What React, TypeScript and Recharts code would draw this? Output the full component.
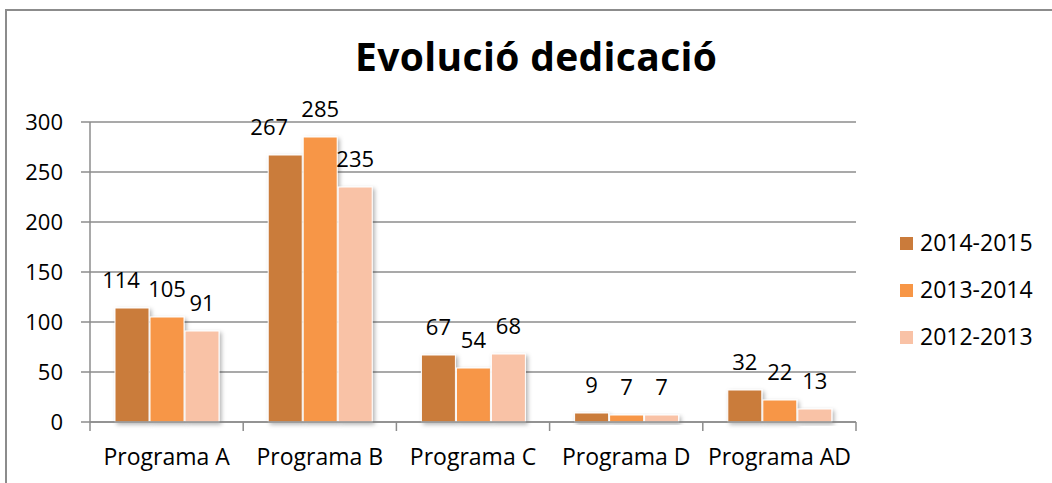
import React from 'react';
import { BarChart, Bar, XAxis, YAxis, CartesianGrid, LabelList } from 'recharts';

const chartTitle = 'Evolució dedicació';
const categories = ['Programa A', 'Programa B', 'Programa C', 'Programa D', 'Programa AD'];
const series2014_2015 = [114, 267, 67, 9, 32];
const series2013_2014 = [105, 285, 54, 7, 22];
const series2012_2013 = [91, 235, 68, 7, 13];
const seriesNames = ['2014-2015', '2013-2014', '2012-2013'];
const yTicks = [0, 50, 100, 150, 200, 250, 300];

const seriesColors = ['#CA7B3B', '#F79646', '#F9C2A6'];
const axisColor = '#8c8c8c';
const fontFamily = "'Open Sans', sans-serif";
const firstSeriesLabelShift = [-11, -16, 0, 0, 0];

const data = categories.map((name, i) => ({
  name,
  s1: series2014_2015[i],
  s2: series2013_2014[i],
  s3: series2012_2013[i],
}));

const XTick = (props: any) => {
  const { x, y, payload, index } = props;
  const off = payload && payload.offset ? payload.offset : 76.6;
  const last = index === categories.length - 1;
  return (
    <g>
      <line x1={x - off} x2={x - off} y1={y} y2={y + 9} stroke={axisColor} strokeWidth={1.5} />
      {last && <line x1={x + off} x2={x + off} y1={y} y2={y + 9} stroke={axisColor} strokeWidth={1.5} />}
      <text x={x} y={y + 43} textAnchor="middle" fontSize={23} fontFamily={fontFamily} fill="#000">
        {payload.value}
      </text>
    </g>
  );
};

const makeLabel = (shifts: number[] | null) => (props: any) => {
  const { x, y, width, value, index } = props;
  const dx = shifts ? shifts[index] || 0 : 0;
  return (
    <text
      x={Number(x) + Number(width) / 2 + dx}
      y={Number(y) - 20}
      textAnchor="middle"
      fontSize={22}
      fontFamily={fontFamily}
      fill="#000"
    >
      {value}
    </text>
  );
};

const barShape = (color: string) => (props: any) => {
  const { x, y, width, height } = props;
  if (!height || height <= 0) return <g />;
  return (
    <rect
      x={x}
      y={y}
      width={width}
      height={height}
      fill={color}
      stroke="#ffffff"
      strokeWidth={1}
      filter="url(#barShadow)"
    />
  );
};

export default function App() {
  const keys = ['s1', 's2', 's3'];
  return (
    <div
      style={{
        position: 'absolute',
        left: 0,
        top: 0,
        width: 1052,
        height: 483,
        overflow: 'hidden',
        background: '#fff',
        fontFamily,
      }}
    >
      <BarChart
        width={1052}
        height={483}
        data={data}
        margin={{ top: 122, right: 196, bottom: 0, left: 0 }}
        barCategoryGap={25}
        barGap={1}
      >
        <defs>
          <filter id="barShadow" x="-20%" y="-20%" width="150%" height="150%">
            <feDropShadow dx="2" dy="2" stdDeviation="2" floodColor="#000" floodOpacity="0.3" />
          </filter>
        </defs>
        <CartesianGrid vertical={false} stroke={axisColor} strokeWidth={1.5} />
        <XAxis
          dataKey="name"
          height={61}
          interval={0}
          tickLine={false}
          tickSize={0}
          tickMargin={0}
          tick={<XTick />}
          axisLine={{ stroke: axisColor, strokeWidth: 1.5 }}
        />
        <YAxis
          width={90}
          domain={[0, 300]}
          ticks={yTicks}
          interval={0}
          tickSize={9}
          tickMargin={18}
          tickLine={{ stroke: axisColor, strokeWidth: 1.5 }}
          axisLine={{ stroke: axisColor, strokeWidth: 1.5 }}
          tick={{ fill: '#000', fontSize: 22, fontFamily }}
        />
        {keys.map((k, i) => (
          <Bar
            key={k}
            dataKey={k}
            name={seriesNames[i]}
            fill={seriesColors[i]}
            isAnimationActive={false}
            shape={barShape(seriesColors[i])}
          >
            <LabelList dataKey={k} content={makeLabel(i === 0 ? firstSeriesLabelShift : null)} />
          </Bar>
        ))}
      </BarChart>
      <svg
        width={1052}
        height={483}
        style={{ position: 'absolute', left: 0, top: 0, pointerEvents: 'none' }}
      >
        <rect x={6} y={10} width={1100} height={600} fill="none" stroke={axisColor} strokeWidth={2} />
        <text
          x={536}
          y={71}
          textAnchor="middle"
          fontSize={39}
          fontWeight="bold"
          fontFamily={fontFamily}
          fill="#000"
          textLength={362}
          lengthAdjust="spacing"
        >
          {chartTitle}
        </text>
        {seriesNames.map((n, i) => (
          <g key={n}>
            <rect x={900} y={237 + i * 47} width={13} height={13} fill={seriesColors[i]} />
            <text x={920} y={251 + i * 47} fontSize={23} fontFamily={fontFamily} fill="#000">
              {n}
            </text>
          </g>
        ))}
      </svg>
    </div>
  );
}
